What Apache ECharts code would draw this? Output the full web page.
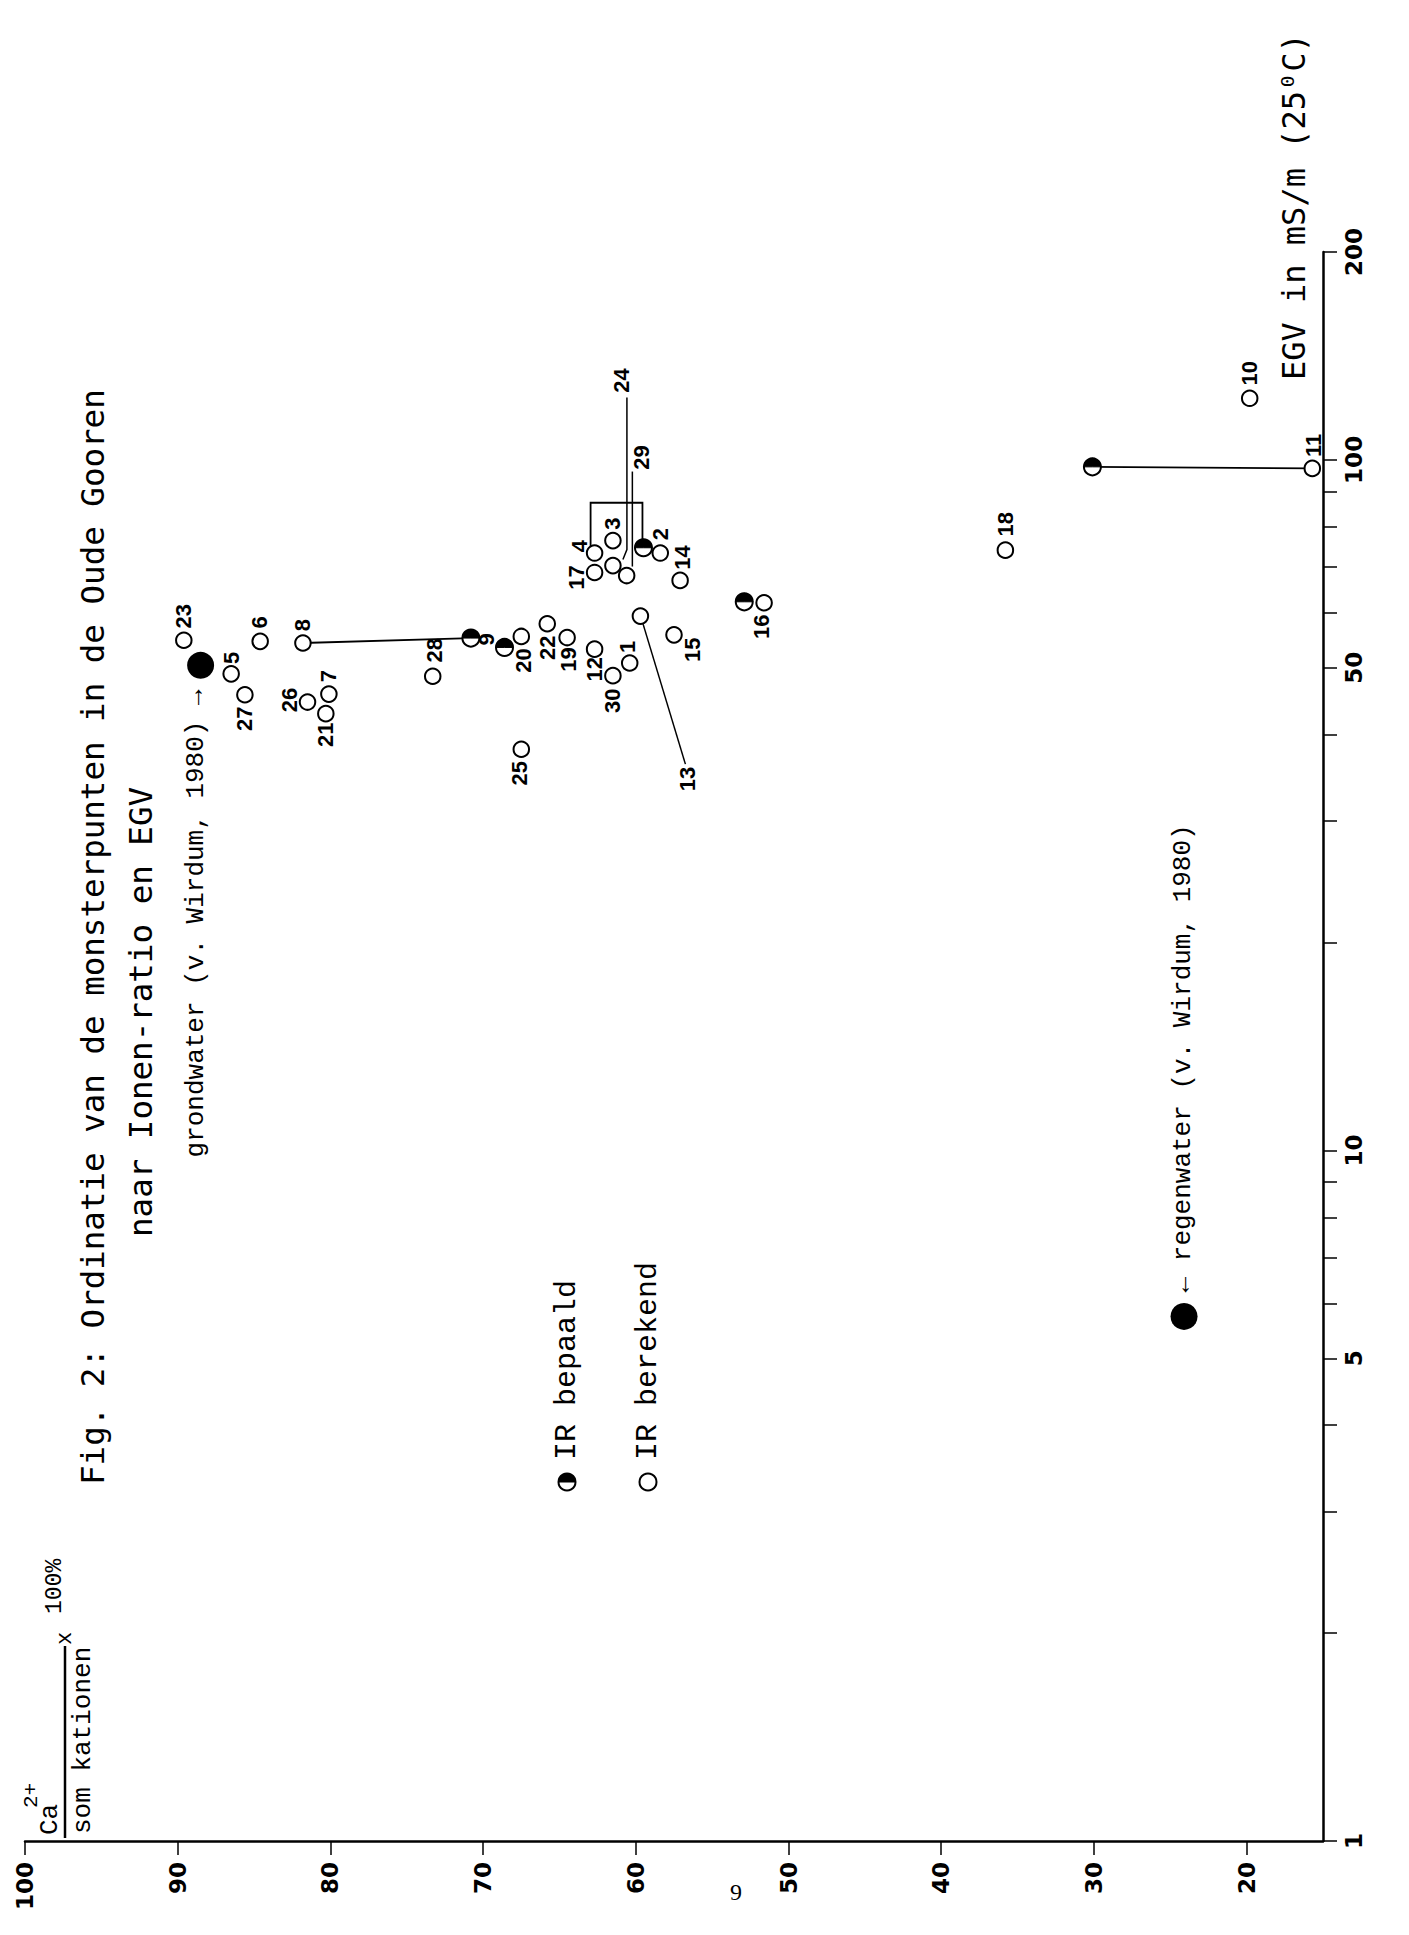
<!DOCTYPE html>
<html>
<head>
<meta charset="utf-8">
<script src="https://cdn.jsdelivr.net/npm/echarts@6/dist/echarts.min.js"></script>
<style>
html,body{margin:0;padding:0;background:#fff;}
#c{width:1409px;height:1935px;}
</style>
</head>
<body>
<div id="c"></div>
<script>
// ---------------- data ----------------
// IR berekend (open circles): sample number, Ca2+/som kationen (%), EGV (mS/m, 25 C)
const sampleIds   = ['1','2','3','4','5','6','7','8','10','11','12','13','14','15','16','17','18','19','20','21','22','23','24','25','26','27','28','29','30'];
const caBerekend  = [60.4,58.4,61.5,62.7,86.5,84.6,80.1,81.8,19.8,15.7,62.7,59.7,57.1,57.5,51.6,62.7,35.8,64.5,67.5,80.3,65.8,89.6,61.5,67.5,81.5,85.6,73.3,60.6,61.5];
const egvBerekend = [50.8,73.3,76.4,73.3,49.0,54.6,45.8,54.3,122.8,97.2,53.2,59.4,66.9,55.8,62.1,68.7,74.0,55.3,55.5,42.9,57.9,54.8,70.3,38.1,44.6,45.7,48.6,68.0,48.7];

// IR bepaald (half-filled circles)
const bepaaldIds  = ['4','8','9','11','16'];
const caBepaald   = [59.5,70.8,68.6,30.1,52.9];
const egvBepaald  = [74.6,55.2,53.5,97.7,62.3];

// reference waters (v. Wirdum, 1980)
const referenceNames = ['grondwater (v. Wirdum, 1980)','regenwater (v. Wirdum, 1980)'];
const caReference    = [88.5,24.1];
const egvReference   = [50.4,5.75];

// axis ticks
const caTickValues   = [100,90,80,70,60,50,40,30,20];
const egvLabelValues = [1,5,10,50,100,200];
const egvTickValues  = [1,2,3,4,5,6,7,8,9,10,20,30,40,50,60,70,80,90,100,200];

// ---------------- styling / placement (pixels, not data) ----------------
const labelOffset = {
  '23':[0,-24],'5':[0,-16],'27':[0,24],'6':[-1,-19],'8':[0,-18],'26':[-18,-2],'7':[0,-18],
  '21':[0,21],'28':[2,-26],'20':[2,24],'22':[0,24],'19':[1,22],'12':[0,20],'30':[0,25],
  '1':[-2,-16],'15':[18,15],'17':[-18,5],'4':[-15,-7],'3':[0,-17],'2':[0,-19],'14':[2,-23],
  '16':[-3,24],'10':[0,-25],'11':[1,-23],'18':[0,-26],'25':[-2,24],
  '24':[9,-185],'29':[15,-118],'13':[47,163]
};
const leaderLines = {
  '24':[[10,-6],[14,-16],[14,-168]],
  '29':[[5.7,-9],[5.7,-104]],
  '13':[[2.7,8],[45,148]]
};
const linkStyle = {'8':'line','11':'line','4':'bracket'};
const refTextPlace = [
  {dx:-5, dy:24, align:'right', text: referenceNames[0] + ' \u2192'},
  {dx:-1, dy:-24, align:'left', text: '\u2190 ' + referenceNames[1]}
];

const MONO = '"Liberation Mono", "DejaVu Sans Mono", monospace';
const TYPE = '"DejaVu Sans Mono", monospace';
const NUM_FONT = 'bold 22px "Liberation Sans", Arial, sans-serif';
const R = 8.5;

function rotText(x, y, text, font, align) {
  const a = align || 'left';
  return {type:'text', x:x, y:y, rotation:Math.PI/2, silent:true,
    style:{text:text, font:font, fill:'#000', align:a, verticalAlign:'middle', textAlign:a, textVerticalAlign:'middle'}};
}
function halfMarker(cx, cy, r) {
  return [
    {type:'circle', shape:{cx:cx, cy:cy, r:r}, style:{fill:'#fff', stroke:'#000', lineWidth:2}},
    {type:'sector', shape:{cx:cx, cy:cy, r0:0, r:r, startAngle:Math.PI, endAngle:Math.PI*2, clockwise:true}, style:{fill:'#000', stroke:'#000', lineWidth:1}}
  ];
}

const chart = echarts.init(document.getElementById('c'), null, {renderer:'svg', width:1409, height:1935});

const berekendData = sampleIds.map((id,i)=>({name:id, value:[caBerekend[i], egvBerekend[i]]}));
const bepaaldData  = bepaaldIds.map((id,i)=>[caBepaald[i], egvBepaald[i]]);
const linkData = bepaaldIds.map((id,i)=>{
  const j = sampleIds.indexOf(id);
  return [caBepaald[i], egvBepaald[i], j>=0?caBerekend[j]:caBepaald[i], j>=0?egvBerekend[j]:egvBepaald[i]];
});
const refData = referenceNames.map((n,i)=>({name:n, value:[caReference[i], egvReference[i]]}));

const option = {
  backgroundColor:'#fff',
  animation:false,
  grid:{left:25, right:86, top:252, bottom:94},
  xAxis:{
    type:'value', min:15, max:100, inverse:true, position:'bottom',
    axisLine:{onZero:false, lineStyle:{color:'#000', width:2.5}},
    axisTick:{show:true, length:14, lineStyle:{color:'#000', width:1.5}, customValues:caTickValues},
    axisLabel:{rotate:90, margin:21, color:'#000', fontFamily:'DejaVu Sans', fontWeight:'bold', fontSize:23,
               padding:[0,0,16,0], customValues:caTickValues},
    splitLine:{show:false}
  },
  yAxis:{
    type:'log', logBase:10, min:1, max:200, position:'right',
    axisLine:{onZero:false, lineStyle:{color:'#000', width:2.5}},
    axisTick:{show:true, length:14, lineStyle:{color:'#000', width:1.5}, customValues:egvTickValues},
    axisLabel:{rotate:90, margin:19, color:'#000', fontFamily:'DejaVu Sans', fontWeight:'bold', fontSize:23, customValues:egvLabelValues},
    splitLine:{show:false}, minorTick:{show:false}
  },
  graphic:[
    rotText(93, 1485, 'Fig. 2: Ordinatie van de monsterpunten in de Oude Gooren', '32.5px ' + TYPE),
    rotText(141, 1237, 'naar Ionen-ratio en EGV', '32.5px ' + TYPE),
    rotText(1294, 380, 'EGV in mS/m (25\u2070C)', '32px ' + TYPE),
    rotText(50, 1835, 'Ca', '26px ' + MONO),
    rotText(31, 1808, '2+', '21px ' + MONO),
    {type:'line', silent:true, shape:{x1:65, y1:1838, x2:65, y2:1646}, style:{stroke:'#000', lineWidth:2.5}},
    rotText(65, 1645, 'x', '22px ' + MONO),
    rotText(83, 1834, 'som kationen', '26px ' + MONO),
    rotText(55, 1614, '100%', '23px ' + MONO),
    {type:'group', silent:true, children: halfMarker(567, 1482, R)},
    rotText(567, 1460, 'IR bepaald', '30px ' + MONO),
    {type:'circle', silent:true, shape:{cx:648, cy:1482, r:R}, style:{fill:'#fff', stroke:'#000', lineWidth:2}},
    rotText(648, 1460, 'IR berekend', '30px ' + MONO),
    {type:'text', x:736, y:1892, silent:true, style:{text:'9', font:'24px "Liberation Serif", serif', fill:'#000', align:'center', verticalAlign:'middle', textAlign:'center', textVerticalAlign:'middle'}}
  ],
  series:[
    { // links between bepaald and berekend of same sample
      type:'custom', name:'links', z:1, silent:true,
      data:linkData, encode:{x:[0,2], y:[1,3]},
      renderItem:function(params, api){
        const id = bepaaldIds[params.dataIndex];
        const kind = linkStyle[id];
        if (!kind) return null;
        const p1 = api.coord([api.value(0), api.value(1)]);
        const p2 = api.coord([api.value(2), api.value(3)]);
        if (kind === 'line') {
          return {type:'line', shape:{x1:p1[0], y1:p1[1], x2:p2[0], y2:p2[1]}, style:{stroke:'#000', lineWidth:1.8}};
        }
        const top = Math.min(p1[1], p2[1]) - 45;
        return {type:'polyline', shape:{points:[[p2[0]-4, p2[1]-4],[p2[0]-4, top],[p1[0]-1, top],[p1[0]-1, p1[1]-8]]},
                style:{stroke:'#000', lineWidth:1.8, fill:null}};
      }
    },
    {
      type:'scatter', name:'IR berekend', z:3, silent:true,
      symbol:'circle', symbolSize:15.5,
      itemStyle:{color:'#fff', borderColor:'#000', borderWidth:2, opacity:1},
      data:berekendData
    },
    {
      type:'custom', name:'IR bepaald', z:4, silent:true,
      data:bepaaldData, encode:{x:0, y:1},
      renderItem:function(params, api){
        const id = bepaaldIds[params.dataIndex];
        const p = api.coord([api.value(0), api.value(1)]);
        const children = halfMarker(p[0], p[1], R);
        if (sampleIds.indexOf(id) < 0) {
          children.push({type:'text', x:p[0]-18, y:p[1]-8, rotation:Math.PI/2,
            style:{text:id, font:NUM_FONT, fill:'#000', align:'center', verticalAlign:'middle', textAlign:'center', textVerticalAlign:'middle'}});
        }
        return {type:'group', children:children};
      }
    },
    {
      type:'scatter', name:'referentie', z:3, silent:true,
      symbol:'circle', symbolSize:27,
      itemStyle:{color:'#000', opacity:1},
      data:refData
    },
    {
      type:'custom', name:'referentie tekst', z:5, silent:true,
      data:refData.map(d=>d.value), encode:{x:0, y:1},
      renderItem:function(params, api){
        const p = api.coord([api.value(0), api.value(1)]);
        const pl = refTextPlace[params.dataIndex];
        return {type:'text', x:p[0]+pl.dx, y:p[1]+pl.dy, rotation:Math.PI/2,
          style:{text:pl.text, font:'26px ' + MONO, fill:'#000', align:pl.align, verticalAlign:'middle', textAlign:pl.align, textVerticalAlign:'middle'}};
      }
    },
    {
      type:'custom', name:'nummers', z:5, silent:true,
      data:berekendData.map(d=>d.value), encode:{x:0, y:1},
      renderItem:function(params, api){
        const id = sampleIds[params.dataIndex];
        const p = api.coord([api.value(0), api.value(1)]);
        const off = labelOffset[id] || [0,-20];
        const children = [{type:'text', x:p[0]+off[0], y:p[1]+off[1], rotation:Math.PI/2,
          style:{text:id, font:NUM_FONT, fill:'#000', align:'center', verticalAlign:'middle', textAlign:'center', textVerticalAlign:'middle'}}];
        const lead = leaderLines[id];
        if (lead) {
          children.push({type:'polyline', shape:{points:lead.map(o=>[p[0]+o[0], p[1]+o[1]])}, style:{stroke:'#000', lineWidth:1.5, fill:null}});
        }
        return {type:'group', children:children};
      }
    }
  ]
};
chart.setOption(option);
</script>
</body>
</html>
